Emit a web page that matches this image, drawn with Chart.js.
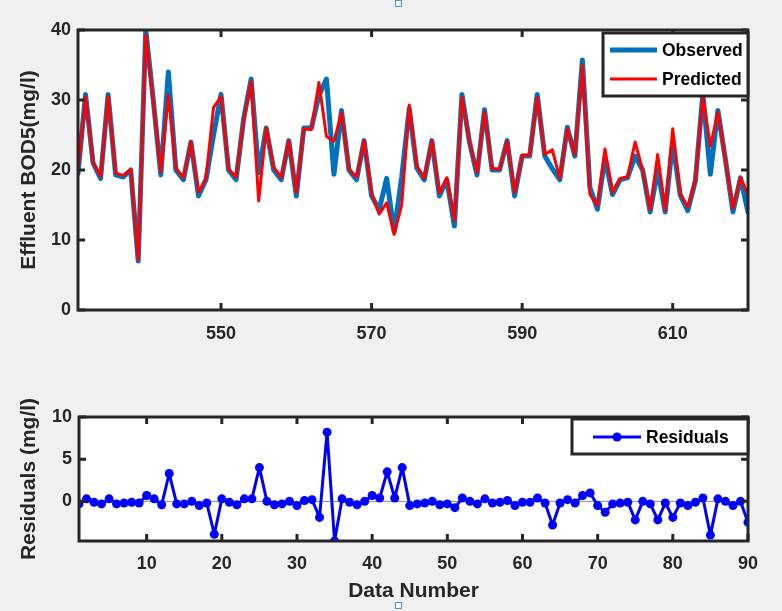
<!DOCTYPE html>
<html>
<head>
<meta charset="utf-8">
<script src="https://cdn.jsdelivr.net/npm/chart.js@4.4.1/dist/chart.umd.min.js"></script>
<style>
  body { margin: 0; background: #f0f0f0; width: 782px; height: 611px; overflow: hidden; position: relative; }
  canvas { position: absolute; left: 0; }
  #topChart { top: 0; }
  #botChart { top: 360px; }
  .handle { position: absolute; left: 395px; width: 5px; height: 5px; border: 1px solid #3c9ad6; background: #fff; }
</style>
</head>
<body>
<canvas id="topChart" width="782" height="360"></canvas>
<canvas id="botChart" width="782" height="251"></canvas>
<div class="handle" style="top:0px"></div>
<div class="handle" style="top:602px"></div>
<script>
// sample numbers 531..620 on the top plot, data numbers 1..90 on the residual plot
const firstSample = 531;
const observed = [
  19.5, 30.8, 21.0, 18.8, 30.8, 19.3, 19.0, 20.0, 7.0, 40.0,
  30.0, 19.3, 34.0, 20.0, 18.6, 24.0, 16.3, 18.6, 25.0, 30.8,
  20.0, 18.6, 27.3, 33.0, 19.6, 26.0, 20.0, 18.6, 24.2, 16.3,
  26.0, 26.0, 30.6, 33.0, 19.4, 28.5, 20.0, 18.6, 24.2, 16.3,
  14.3, 18.8, 11.2, 19.0, 28.8, 20.3, 18.6, 24.2, 16.3, 18.6,
  12.0, 30.8, 24.0, 19.3, 28.6, 20.0, 20.0, 24.2, 16.3, 22.0,
  22.0, 30.8, 22.0, 20.2, 18.6, 26.1, 22.0, 35.7, 17.5, 14.4,
  21.7, 16.5, 18.6, 18.9, 22.0, 20.0, 14.0, 20.0, 14.0, 24.0,
  16.4, 14.2, 18.4, 30.9, 19.4, 28.5, 21.5, 14.0, 18.9, 14.0
];
const predicted = [
  19.8, 30.5, 21.1, 19.1, 30.5, 19.6, 19.2, 20.1, 7.2, 39.3,
  29.7, 19.7, 30.7, 20.3, 18.9, 24.0, 16.8, 18.8, 28.9, 30.5,
  20.1, 19.0, 27.0, 32.7, 15.6, 26.0, 20.4, 18.9, 24.2, 16.8,
  25.9, 25.8, 32.5, 24.8, 24.1, 28.2, 20.1, 19.0, 24.2, 16.6,
  13.7, 15.3, 10.8, 15.0, 29.3, 20.6, 18.8, 24.2, 16.7, 18.9,
  12.75, 30.4, 24.0, 19.6, 28.3, 20.2, 20.1, 24.1, 16.8, 22.1,
  22.1, 30.4, 22.2, 22.9, 18.8, 25.9, 22.2, 35.0, 16.5, 14.9,
  23.0, 16.8, 18.8, 19.0, 24.0, 20.0, 14.3, 22.2, 14.2, 25.9,
  16.6, 14.7, 18.5, 30.5, 23.4, 28.2, 21.5, 14.5, 18.9, 16.5
];
const residuals = [
  -0.3, 0.3, -0.1, -0.3, 0.3, -0.3, -0.2, -0.1, -0.2, 0.7,
  0.3, -0.4, 3.3, -0.3, -0.3, 0.0, -0.5, -0.2, -3.9, 0.3,
  -0.1, -0.4, 0.3, 0.3, 4.0, 0.0, -0.4, -0.3, 0.0, -0.5,
  0.1, 0.2, -1.9, 8.2, -4.7, 0.3, -0.1, -0.4, 0.0, 0.7,
  0.4, 3.5, 0.4, 4.0, -0.5, -0.3, -0.2, 0.0, -0.4, -0.3,
  -0.75, 0.4, 0.0, -0.3, 0.3, -0.2, -0.1, 0.1, -0.5, -0.1,
  -0.1, 0.4, -0.2, -2.8, -0.2, 0.2, -0.2, 0.7, 1.0, -0.5,
  -1.3, -0.3, -0.2, -0.1, -2.2, 0.0, -0.3, -2.2, -0.2, -1.9,
  -0.2, -0.5, -0.1, 0.4, -4.0, 0.3, 0.0, -0.5, 0.0, -2.5
];
const topXTicks = [550, 570, 590, 610];
const topYTicks = [0, 10, 20, 30, 40];
const botXTicks = [10, 20, 30, 40, 50, 60, 70, 80, 90];
const botYTicks = [0, 5, 10];

const sampleNo = observed.map((v, i) => firstSample + i);
const dataNo = residuals.map((v, i) => i + 1);

const FONT = '"Liberation Sans", Arial, sans-serif';
const INK = '#262626';

const framePlugin = {
  id: 'frame',
  beforeDraw(chart) {
    const {ctx, chartArea: a} = chart;
    ctx.save();
    ctx.fillStyle = '#fff';
    ctx.fillRect(a.left, a.top, a.width, a.height);
    ctx.restore();
  },
  beforeDatasetsDraw(chart, args, opts) {
    if (!opts.zeroLine) return;
    const {ctx, chartArea: a, scales: {y}} = chart;
    const py = y.getPixelForValue(0);
    ctx.save();
    ctx.strokeStyle = '#8c8c8c';
    ctx.lineWidth = 1;
    ctx.beginPath();
    ctx.moveTo(a.left, py);
    ctx.lineTo(a.right, py);
    ctx.stroke();
    ctx.restore();
  },
  afterDatasetsDraw(chart, args, opts) {
    const {ctx, chartArea: a, scales: {x, y}} = chart;
    ctx.save();
    ctx.strokeStyle = INK;
    ctx.lineWidth = 3;
    const len = 7;
    ctx.beginPath();
    opts.xTicks.forEach(v => {
      const px = x.getPixelForValue(v);
      ctx.moveTo(px, a.bottom); ctx.lineTo(px, a.bottom - len);
      ctx.moveTo(px, a.top); ctx.lineTo(px, a.top + len);
    });
    opts.yTicks.forEach(v => {
      const py = y.getPixelForValue(v);
      ctx.moveTo(a.left, py); ctx.lineTo(a.left + len, py);
      ctx.moveTo(a.right, py); ctx.lineTo(a.right - len, py);
    });
    ctx.stroke();
    ctx.strokeRect(a.left, a.top, a.width, a.height);

    // legend box
    const L = opts.legend;
    const bx = a.right - L.w, by = a.top + L.dy;
    ctx.fillStyle = '#fff';
    ctx.fillRect(bx, by, L.w, L.h);
    ctx.strokeRect(bx, by, L.w, L.h);
    ctx.font = 'bold 17.5px ' + FONT;
    ctx.textBaseline = 'middle';
    chart.data.datasets.forEach((ds, i) => {
      const ry = by + L.row0 + i * L.rowGap;
      ctx.strokeStyle = ds.borderColor;
      ctx.lineWidth = ds.borderWidth;
      ctx.beginPath();
      ctx.moveTo(bx + L.lineX0, ry);
      ctx.lineTo(bx + L.lineX1, ry);
      ctx.stroke();
      if (ds.pointRadius > 0) {
        ctx.fillStyle = ds.borderColor;
        ctx.beginPath();
        ctx.arc(bx + (L.lineX0 + L.lineX1) / 2, ry, ds.pointRadius, 0, Math.PI * 2);
        ctx.fill();
      }
      ctx.fillStyle = '#000';
      ctx.fillText(ds.label, bx + L.textX, ry + 1);
    });
    ctx.restore();
  }
};

function axisTicks(list) {
  return scale => { scale.ticks = list.map(v => ({value: v})); };
}

const tickFont = {family: FONT, size: 18, weight: 'bold'};
const titleFont = {family: FONT, size: 21, weight: 'bold'};

new Chart(document.getElementById('topChart'), {
  type: 'line',
  data: {
    labels: sampleNo,
    datasets: [
      {label: 'Observed', data: observed, borderColor: '#0072BD', borderWidth: 5, pointRadius: 0, tension: 0,
       borderJoinStyle: 'round', borderCapStyle: 'round', order: 1},
      {label: 'Predicted', data: predicted, borderColor: '#FF0000', borderWidth: 3, pointRadius: 0, tension: 0,
       borderJoinStyle: 'round', borderCapStyle: 'round', order: 0}
    ]
  },
  options: {
    responsive: false,
    animation: false,
    layout: {padding: {top: 30, right: 34, left: 0, bottom: 0}},
    scales: {
      x: {
        type: 'linear', min: 531, max: 620,
        afterBuildTicks: axisTicks(topXTicks),
        afterFit: s => { s.height = 50; },
        grid: {display: false, drawTicks: false},
        border: {display: false},
        ticks: {font: tickFont, color: INK, padding: 13, maxRotation: 0}
      },
      y: {
        min: 0, max: 40,
        afterBuildTicks: axisTicks(topYTicks),
        afterFit: s => { s.width = 78; },
        grid: {display: false, drawTicks: false},
        border: {display: false},
        ticks: {font: tickFont, color: INK, padding: 7},
        title: {display: true, text: 'Effluent BOD5(mg/l)', font: titleFont, color: INK, padding: {top: 17, bottom: 0}}
      }
    },
    plugins: {
      legend: {display: false},
      tooltip: {enabled: false},
      frame: {xTicks: topXTicks, yTicks: topYTicks,
        legend: {w: 145, h: 63, dy: 3, row0: 17, rowGap: 29, lineX0: 7, lineX1: 54, textX: 59}}
    }
  },
  plugins: [framePlugin]
});

new Chart(document.getElementById('botChart'), {
  type: 'line',
  data: {
    labels: dataNo,
    datasets: [
      {label: 'Residuals', data: residuals, borderColor: '#0000FF', backgroundColor: '#0000FF',
       borderWidth: 3, pointRadius: 4.5, pointBorderWidth: 0, tension: 0, borderJoinStyle: 'round'}
    ]
  },
  options: {
    responsive: false,
    animation: false,
    layout: {padding: {top: 57, right: 34, left: 0, bottom: 0}},
    scales: {
      x: {
        type: 'linear', min: 1, max: 90,
        afterBuildTicks: axisTicks(botXTicks),
        afterFit: s => { s.height = 70; },
        grid: {display: false, drawTicks: false},
        border: {display: false},
        ticks: {font: tickFont, color: INK, padding: 12, maxRotation: 0},
        title: {display: true, text: 'Data Number', font: titleFont, color: INK, padding: {top: 0, bottom: 7}}
      },
      y: {
        min: -4.7, max: 10,
        afterBuildTicks: axisTicks(botYTicks),
        afterFit: s => { s.width = 79; },
        grid: {display: false, drawTicks: false},
        border: {display: false},
        ticks: {font: tickFont, color: INK, padding: 7},
        title: {display: true, text: 'Residuals (mg/l)', font: titleFont, color: INK, padding: {top: 17, bottom: 0}}
      }
    },
    plugins: {
      legend: {display: false},
      tooltip: {enabled: false},
      frame: {xTicks: botXTicks, yTicks: botYTicks, zeroLine: true,
        legend: {w: 176, h: 35, dy: 2, row0: 18, rowGap: 0, lineX0: 21, lineX1: 69, textX: 74}}
    }
  },
  plugins: [framePlugin]
});
</script>
</body>
</html>
